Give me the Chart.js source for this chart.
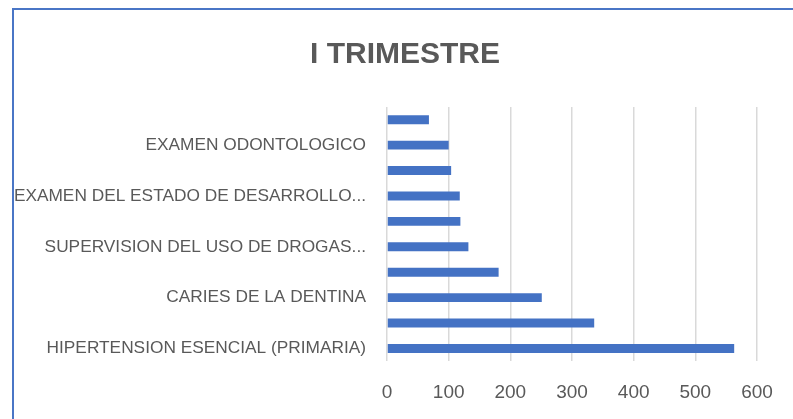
<!DOCTYPE html>
<html>
<head>
<meta charset="utf-8">
<script src="https://cdn.jsdelivr.net/npm/chart.js@4"></script>
<style>
    html, body { margin: 0; padding: 0; background: #ffffff; overflow: hidden; }
    body { width: 793px; height: 419px; position: relative; }
    #frame {
        position: absolute; left: 12px; top: 8px;
        width: 786px; height: 420px;
        border: 2px solid #4a76c6;
        box-sizing: border-box;
    }
    #frame canvas { display: block; }
    #title {
        position: absolute; left: 12px; top: 38px; width: 786px;
        text-align: center;
        font: bold 30px 'Liberation Sans', Arial, sans-serif;
        line-height: 30px;
        color: #595959;
    }
</style>
</head>
<body>
<div id="frame"><canvas id="chart" width="782" height="416"></canvas></div>
<div id="title">I TRIMESTRE</div>
<script>
    // Категории сверху вниз (в Excel видна только каждая вторая подпись)
    const categories = [
        'RINOFARINGITIS AGUDA',
        'EXAMEN ODONTOLOGICO',
        'GINGIVITIS AGUDA',
        'EXAMEN DEL ESTADO DE DESARROLLO...',
        'OBESIDAD',
        'SUPERVISION DEL USO DE DROGAS...',
        'DIABETES MELLITUS',
        'CARIES DE LA DENTINA',
        'CONTROL DE SALUD',
        'HIPERTENSION ESENCIAL (PRIMARIA)'
    ];
    const values = [68, 100, 104, 118, 119, 132, 181, 251, 336, 563];
    const xTicks = [0, 100, 200, 300, 400, 500, 600];

    const textColor = '#595959';
    const font = 'Liberation Sans, Arial, sans-serif';

    new Chart(document.getElementById('chart'), {
        type: 'bar',
        data: {
            labels: categories,
            datasets: [{
                data: values,
                backgroundColor: '#4472c4',
                borderWidth: 0,
                barPercentage: 0.7,
                categoryPercentage: 0.5
            }]
        },
        options: {
            indexAxis: 'y',
            responsive: false,
            animation: false,
            layout: { padding: { left: 0, right: 39, top: 97, bottom: 2 } },
            plugins: {
                legend: { display: false },
                tooltip: { enabled: false },
                title: { display: false }
            },
            scales: {
                x: {
                    min: xTicks[0],
                    max: xTicks[xTicks.length - 1],
                    afterBuildTicks: (axis) => { axis.ticks = xTicks.map(v => ({ value: v })); },
                    grid: { color: '#d9d9d9', lineWidth: 1.5, drawTicks: false },
                    border: { display: false },
                    ticks: { color: textColor, font: { family: font, size: 19 }, padding: 20, maxRotation: 0 }
                },
                y: {
                    afterFit: (axis) => { axis.width = 373; },
                    grid: { display: false, drawTicks: false },
                    border: { display: false },
                    ticks: {
                        color: textColor,
                        font: { family: font, size: 17.3 },
                        padding: 21,
                        autoSkip: false,
                        callback: (value, index) => (index % 2 === 1 ? categories[index] : '')
                    }
                }
            }
        }
    });
</script>
</body>
</html>
